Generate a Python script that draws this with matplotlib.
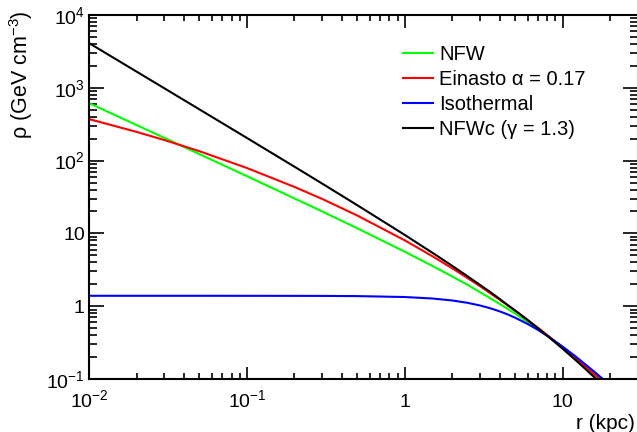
import matplotlib
matplotlib.use('Agg')
import matplotlib.pyplot as plt
from matplotlib.ticker import FixedLocator, LogLocator, NullFormatter

plt.rcParams['font.family'] = ['Liberation Sans', 'DejaVu Sans']
plt.rcParams['mathtext.fontset'] = 'custom'
plt.rcParams['mathtext.rm'] = 'Liberation Sans'
plt.rcParams['mathtext.it'] = 'Liberation Sans:italic'
plt.rcParams['mathtext.bf'] = 'Liberation Sans:bold'

# galactocentric radius (kpc)
r_kpc = [0.01, 0.02, 0.03, 0.05, 0.1, 0.2, 0.3, 0.5, 1, 1.5, 2, 2.5, 3, 3.5,
         4, 4.5, 5, 6, 7, 8, 10, 12, 14, 16, 18, 20]

# density profiles (GeV cm^-3)
rho_nfw = [616, 308, 205, 122.8, 61.1, 30.2, 20.0, 11.75, 5.60, 3.56, 2.55,
           1.96, 1.555, 1.27, 1.071, 0.915, 0.790, 0.608, 0.484, 0.394,
           0.274, 0.201, 0.1525, 0.119, 0.095, 0.077]
rho_einasto = [372, 248, 191.6, 134.7, 79.1, 43.5, 29.7, 17.6, 8.02, 4.84,
               3.31, 2.43, 1.879, 1.49, 1.225, 1.025, 0.868, 0.647, 0.502,
               0.400, 0.271, 0.195, 0.147, 0.1137, 0.0904, 0.0733]
rho_iso = [1.39, 1.39, 1.39, 1.39, 1.389, 1.387, 1.385, 1.376, 1.337, 1.275,
           1.198, 1.112, 1.022, 0.933, 0.848, 0.768, 0.695, 0.570, 0.470,
           0.390, 0.278, 0.206, 0.157, 0.124, 0.0996, 0.0818]
rho_nfwc = [4116, 1670, 985, 506, 204.8, 82.5, 48.3, 24.4, 9.53, 5.40, 3.575,
            2.57, 1.957, 1.55, 1.252, 1.03, 0.874, 0.645, 0.495, 0.391,
            0.260, 0.184, 0.136, 0.1037, 0.0811, 0.0649]

labels = ['NFW', 'Einasto \u03b1 = 0.17', 'Isothermal', 'NFWc (\u03b3 = 1.3)']
colors = ['#00ff00', '#ff0000', '#0000ff', '#000000']

x_ticks = [0.01, 0.1, 1, 10]
x_ticklabels = ['$10^{-2}$', '$10^{-1}$', '1', '10']
y_ticks = [0.1, 1, 10, 100, 1000, 10000]
y_ticklabels = ['$10^{-1}$', '1', '10', '$10^{2}$', '$10^{3}$', '$10^{4}$']

W, H = 637, 432
fig = plt.figure(figsize=(W / 100, H / 100), dpi=100)
ax = fig.add_axes([89 / W, (H - 379) / H, (638 - 89) / W, (379 - 15) / H])

for rho, lab, c in zip([rho_nfw, rho_einasto, rho_iso, rho_nfwc], labels, colors):
    ax.plot(r_kpc, rho, color=c, lw=1.5, label=lab)

ax.set_xscale('log')
ax.set_yscale('log')
ax.set_xlim(0.01, 30)
ax.set_ylim(0.1, 1e4)

ax.xaxis.set_major_locator(FixedLocator(x_ticks))
ax.set_xticklabels(x_ticklabels)
ax.yaxis.set_major_locator(FixedLocator(y_ticks))
ax.set_yticklabels(y_ticklabels)
ax.xaxis.set_minor_locator(LogLocator(base=10, subs=range(2, 10), numticks=20))
ax.yaxis.set_minor_locator(LogLocator(base=10, subs=range(2, 10), numticks=20))
ax.xaxis.set_minor_formatter(NullFormatter())
ax.yaxis.set_minor_formatter(NullFormatter())

ax.tick_params(which='both', direction='in', top=True, right=True,
               width=1.2, labelsize=14, colors='black')
ax.tick_params(axis='x', which='major', length=9, pad=20)
ax.tick_params(axis='x', which='minor', length=4.5)
ax.tick_params(axis='y', which='major', length=11, pad=3)
ax.tick_params(axis='y', which='minor', length=5.8)
for lbl in ax.get_xticklabels():
    lbl.set_verticalalignment('baseline')
for s in ax.spines.values():
    s.set_linewidth(1.5)

ax.set_ylabel('\u03c1 (GeV cm$^{-3}$)', fontsize=15.5, loc='top')
ax.yaxis.set_label_coords(-0.099, 1.014)
ax.set_xlabel('r (kpc)', fontsize=15, loc='right')
ax.xaxis.set_label_coords(0.9945, -0.097)

ax.legend(loc='upper left', bbox_to_anchor=(403 / W, 1 - 45 / H),
          bbox_transform=fig.transFigure, frameon=False, fontsize=14.5,
          handlelength=1.5, handletextpad=0.3, labelspacing=0.3,
          borderpad=0, borderaxespad=0)

plt.savefig('out.png', dpi=100)
